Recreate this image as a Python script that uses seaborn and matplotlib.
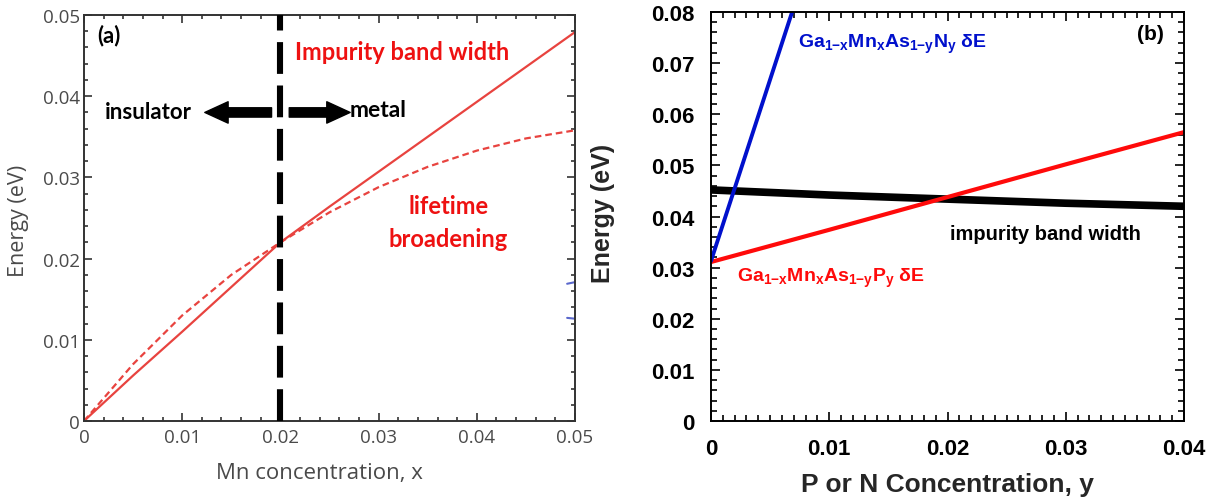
import matplotlib
matplotlib.use("Agg")
import matplotlib.pyplot as plt
from matplotlib.ticker import MultipleLocator
import pandas as pd
import seaborn as sns

# ---------------- Panel (a) data ----------------
mn_x = [0, 0.005, 0.01, 0.015, 0.02, 0.025, 0.03, 0.035, 0.04, 0.045, 0.05]
ib_width_a = [0, 0.0056, 0.0110, 0.0165, 0.0220, 0.0264, 0.0307, 0.0350, 0.0393, 0.0436, 0.0479]
lifetime_a = [0, 0.0070, 0.0130, 0.0180, 0.0220, 0.0257, 0.0288, 0.0313, 0.0333, 0.0348, 0.0358]
mit_x = 0.02
stray_x = [0.0492, 0.0500]
stray_y1 = [0.0169, 0.0171]
stray_y2 = [0.0127, 0.0126]
a_xticks = [0, 0.01, 0.02, 0.03, 0.04, 0.05]
a_xticklabels = ["0", "0.01", "0.02", "0.03", "0.04", "0.05"]
a_yticks = [0, 0.01, 0.02, 0.03, 0.04, 0.05]
a_yticklabels = ["0", "0.01", "0.02", "0.03", "0.04", "0.05"]

# ---------------- Panel (b) data ----------------
conc_y = [0, 0.01, 0.02, 0.03, 0.04]
ib_width_b = [0.0452, 0.0442, 0.0434, 0.0426, 0.0420]
p_dE = [0.0311, 0.0374, 0.0438, 0.0502, 0.0565]
n_y = [0, 0.001, 0.002, 0.003, 0.004, 0.005, 0.006, 0.007]
n_dE = [0.0313, 0.0384, 0.0455, 0.0526, 0.0597, 0.0668, 0.0739, 0.0810]
b_xticks = [0, 0.01, 0.02, 0.03, 0.04]
b_xticklabels = ["0", "0.01", "0.02", "0.03", "0.04"]
b_yticks = [0, 0.01, 0.02, 0.03, 0.04, 0.05, 0.06, 0.07, 0.08]
b_yticklabels = ["0", "0.01", "0.02", "0.03", "0.04", "0.05", "0.06", "0.07", "0.08"]

sns.set_theme(style="ticks")
plt.rcParams["mathtext.fontset"] = "custom"
plt.rcParams["mathtext.bf"] = "Liberation Sans:bold"
plt.rcParams["mathtext.rm"] = "Liberation Sans"
plt.rcParams["mathtext.it"] = "Liberation Sans:italic"
plt.rcParams["font.family"] = ["Liberation Sans", "DejaVu Sans"]

fig = plt.figure(figsize=(12.21, 5.02), dpi=100)
ax1 = fig.add_axes([84 / 1221, 80 / 502, 491 / 1221, 406 / 502])
ax2 = fig.add_axes([711 / 1221, 80 / 502, 473 / 1221, 409 / 502])

# ---------------- Panel (a) ----------------
line_red = "#e8433f"
da = pd.DataFrame({"x": mn_x, "w": ib_width_a, "l": lifetime_a})
sns.lineplot(data=da, x="x", y="w", ax=ax1, color=line_red, lw=1.6)
sns.lineplot(data=da, x="x", y="l", ax=ax1, color=line_red, lw=1.6)
ax1.lines[-1].set_dashes((3, 1.8))
sns.lineplot(x=stray_x, y=stray_y1, ax=ax1, color="#5a68cc", lw=1.5)
sns.lineplot(x=stray_x, y=stray_y2, ax=ax1, color="#5a68cc", lw=1.5)
ax1.axvline(mit_x, color="black", lw=4.4, dashes=(5.2, 1.9), zorder=3)

ax1.set_xlim(0, 0.05)
ax1.set_ylim(0, 0.05)
gray = "#4a4a4a"
ax1.set_xticks(a_xticks)
ax1.set_xticklabels(a_xticklabels, fontfamily="Open Sans", fontsize=13.5, color=gray)
ax1.set_yticks(a_yticks)
ax1.set_yticklabels(a_yticklabels, fontfamily="Open Sans", fontsize=13.5, color=gray)
ax1.xaxis.set_minor_locator(MultipleLocator(0.002))
ax1.yaxis.set_minor_locator(MultipleLocator(0.002))
ax1.tick_params(which="both", direction="in", top=True, right=True, color="#333333", width=1.2)
ax1.tick_params(which="major", length=6)
ax1.tick_params(which="minor", length=3)
ax1.tick_params(axis="y", pad=3)
ax1.tick_params(axis="x", pad=5)
for s in ax1.spines.values():
    s.set_color("#333333")
    s.set_linewidth(1.4)
ax1.set_xlabel("Mn concentration, x", fontfamily="Open Sans", fontsize=16, color=gray)
ax1.set_ylabel("Energy (eV)", fontfamily="Open Sans", fontsize=15.5, color=gray)
ax1.xaxis.set_label_coords(0.48, -0.101)
ax1.yaxis.set_label_coords(-0.112, 0.495)

txt_red = "#ee1111"
ax1.text(0.00132, 0.0468, "(a)", fontfamily="Lato", fontweight="bold", fontsize=16, color="black")
ax1.text(0.0215, 0.0446, "Impurity band width", fontfamily="Lato", fontweight="bold", fontsize=17, color=txt_red)
ax1.text(0.00214, 0.0373, "insulator", fontfamily="Lato", fontweight="bold", fontsize=16, color="black")
ax1.text(0.0271, 0.0376, "metal", fontfamily="Lato", fontweight="bold", fontsize=16.5, color="black")
ax1.text(0.0371, 0.0256, "lifetime", fontfamily="Lato", fontweight="bold", fontsize=17, color=txt_red, ha="center")
ax1.text(0.0371, 0.0216, "broadening", fontfamily="Lato", fontweight="bold", fontsize=17, color=txt_red, ha="center")
astyle = "simple,head_length=1.2,head_width=1.1,tail_width=0.48"
ax1.annotate("", xy=(0.0123, 0.0380), xytext=(0.0191, 0.0380),
             arrowprops=dict(arrowstyle=astyle, color="black", mutation_scale=14, shrinkA=0, shrinkB=0))
ax1.annotate("", xy=(0.0271, 0.0380), xytext=(0.0209, 0.0380),
             arrowprops=dict(arrowstyle=astyle, color="black", mutation_scale=14, shrinkA=0, shrinkB=0))

# ---------------- Panel (b) ----------------
db = pd.DataFrame({"y": conc_y, "ib": ib_width_b, "p": p_dE})
dn = pd.DataFrame({"y": n_y, "n": n_dE})
sns.lineplot(data=db, x="y", y="ib", ax=ax2, color="black", lw=5.5)
sns.lineplot(data=db, x="y", y="p", ax=ax2, color="#ff0a0a", lw=3.0)
sns.lineplot(data=dn, x="y", y="n", ax=ax2, color="#0010cc", lw=2.8)

ax2.set_xlim(0, 0.04)
ax2.set_ylim(0, 0.08)
ax2.set_xticks(b_xticks)
ax2.set_xticklabels(b_xticklabels, fontweight="bold", fontsize=16, color="black")
ax2.set_yticks(b_yticks)
ax2.set_yticklabels(b_yticklabels, fontweight="bold", fontsize=16, color="black")
ax2.xaxis.set_minor_locator(MultipleLocator(0.001))
ax2.yaxis.set_minor_locator(MultipleLocator(0.002))
ax2.tick_params(which="both", direction="in", top=True, right=True, color="black", width=1.2)
ax2.tick_params(which="major", length=6.5)
ax2.tick_params(which="minor", length=4)
ax2.tick_params(axis="y", pad=12)
ax2.tick_params(axis="x", pad=12)
for s in ax2.spines.values():
    s.set_color("black")
    s.set_linewidth(1.4)
ax2.set_xlabel("P or N Concentration, y", fontweight="bold", fontsize=19)
ax2.set_ylabel("Energy (eV)", fontweight="bold", fontsize=18)
ax2.xaxis.set_label_coords(0.499, -0.125)
ax2.yaxis.set_label_coords(-0.203, 0.51)

ax2.text(0.0360, 0.0747, "(b)", fontweight="bold", fontsize=15, color="black")
ax2.text(0.0202, 0.0356, "impurity band width", fontweight="bold", fontsize=14.5, color="black")
ax2.text(0.00736, 0.0732, r"$\mathbf{Ga_{1{-}x}Mn_{x}As_{1{-}y}N_{y}\ \delta E}$",
         fontsize=14, color="#0010cc")
ax2.text(0.0022, 0.0274, r"$\mathbf{Ga_{1{-}x}Mn_{x}As_{1{-}y}P_{y}\ \delta E}$",
         fontsize=14, color="#ff0a0a")

fig.savefig("out.png", dpi=100)
